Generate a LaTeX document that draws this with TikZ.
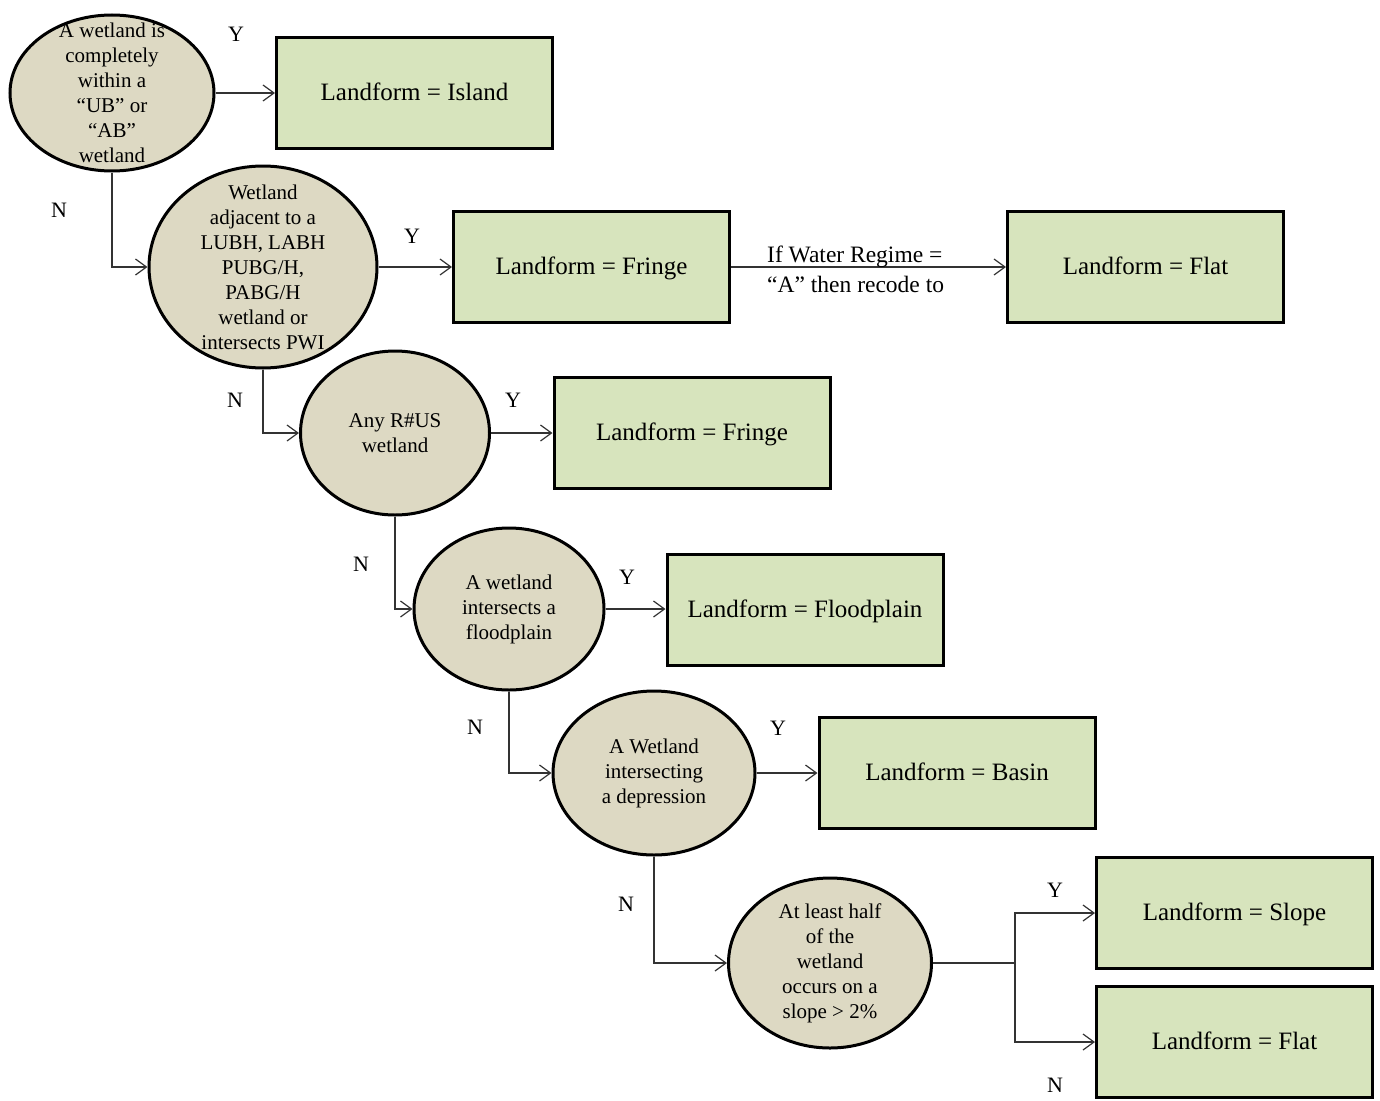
\documentclass[tikz,border=0pt]{standalone}
\usepackage{fontspec}
\setmainfont{Liberation Serif}
\usetikzlibrary{shapes.geometric,arrows.meta}
\definecolor{qfill}{HTML}{DDD9C3}
\definecolor{bfill}{HTML}{D7E4BD}
\tikzset{
  qshape/.style={ellipse,draw=black,line width=3pt,fill=qfill,inner sep=0pt},
  qtext/.style={align=center,inner sep=0pt,font=\fontsize{21}{25}\selectfont},
  rbox/.style={rectangle,draw=black,line width=3pt,fill=bfill,minimum width=276pt,minimum height=111pt,inner sep=0pt,text height=17pt,text depth=1.5pt,font=\fontsize{25}{28}\selectfont},
  conn/.style={line width=1.2pt,draw=black!80},
  arr/.style={conn,-{Straight Barb[length=11pt,width=16pt,line width=1.2pt]}},
  yn/.style={inner sep=0pt,font=\fontsize{22}{26}\selectfont},
  lbl/.style={inner sep=0pt,align=left,font=\fontsize{23.5}{30}\selectfont}
}
\begin{document}
\begin{tikzpicture}[x=1pt,y=-1pt]
\useasboundingbox (0,0) rectangle (1380,1100);
% questions
\node[qshape,minimum width=204pt,minimum height=156pt] (q1) at (112,93) {};
\node[qtext] (q1t) at (112,93) {A wetland is\\completely\\within a\\“UB” or\\“AB”\\wetland};
\node[qshape,minimum width=228pt,minimum height=202pt] (q2) at (263,267) {};
\node[qtext] (q2t) at (263,267) {Wetland\\adjacent to a\\LUBH, LABH\\PUBG/H,\\PABG/H\\wetland or\\intersects PWI};
\node[qshape,minimum width=189pt,minimum height=164pt] (q3) at (395,433) {};
\node[qtext] (q3t) at (395,433) {Any R\#US\\wetland};
\node[qshape,minimum width=190pt,minimum height=162pt] (q4) at (509,609) {};
\node[qtext] (q4t) at (509,609) {A wetland\\intersects a\\floodplain};
\node[qshape,minimum width=202pt,minimum height=164pt] (q5) at (654,773) {};
\node[qtext] (q5t) at (654,773) {A Wetland\\intersecting\\a depression};
\node[qshape,minimum width=203pt,minimum height=170pt] (q6) at (830,963) {};
\node[qtext] (q6t) at (830,963) {At least half\\of the\\wetland\\occurs on a\\slope > 2\%};
% results
\node[rbox] (b1) at (414.5,93) {Landform = Island};
\node[rbox] (b2) at (591.5,267) {Landform = Fringe};
\node[rbox] (b3) at (1145.5,267) {Landform = Flat};
\node[rbox] (b4) at (692,433) {Landform = Fringe};
\node[rbox] (b5) at (805,610) {Landform = Floodplain};
\node[rbox] (b6) at (957,773) {Landform = Basin};
\node[rbox] (b7) at (1234.5,913) {Landform = Slope};
\node[rbox] (b8) at (1234.5,1042) {Landform = Flat};
% connectors
\draw[arr] (q1) -- (b1);
\draw[arr] (q1.south) |- (q2.west);
\draw[arr] (q2) -- (b2);
\draw[arr] (b2) -- (b3);
\draw[arr] (q2.south) |- (q3.west);
\draw[arr] (q3) -- (b4);
\draw[arr] (q3.south) |- (q4.west);
\draw[arr] (q4.east) -- (q4.east -| b5.west);
\draw[arr] (q4.south) |- (q5.west);
\draw[arr] (q5) -- (b6);
\draw[arr] (q5.south) |- (q6.west);
\draw[conn] (q6.east) -- ++(82,0) coordinate (split);
\draw[arr] (split) |- (b7.west);
\draw[arr] (split) |- (b8.west);
% labels
\node[yn] (y1) at (236,34) {Y};
\node[yn] (n1) at (59,210) {N};
\node[yn] (y2) at (412,236) {Y};
\node[yn] (n2) at (235,400) {N};
\node[yn] (y3) at (513,400) {Y};
\node[yn] (n3) at (361,564) {N};
\node[yn] (y4) at (627,577) {Y};
\node[yn] (n4) at (475,727) {N};
\node[yn] (y5) at (778,728) {Y};
\node[yn] (n5) at (626,904) {N};
\node[yn] (y6) at (1055,890) {Y};
\node[yn] (n6) at (1055,1085) {N};
\node[lbl,anchor=west] (wr) at (767,269) {If Water Regime =\\“A” then recode to};
\end{tikzpicture}
\end{document}
